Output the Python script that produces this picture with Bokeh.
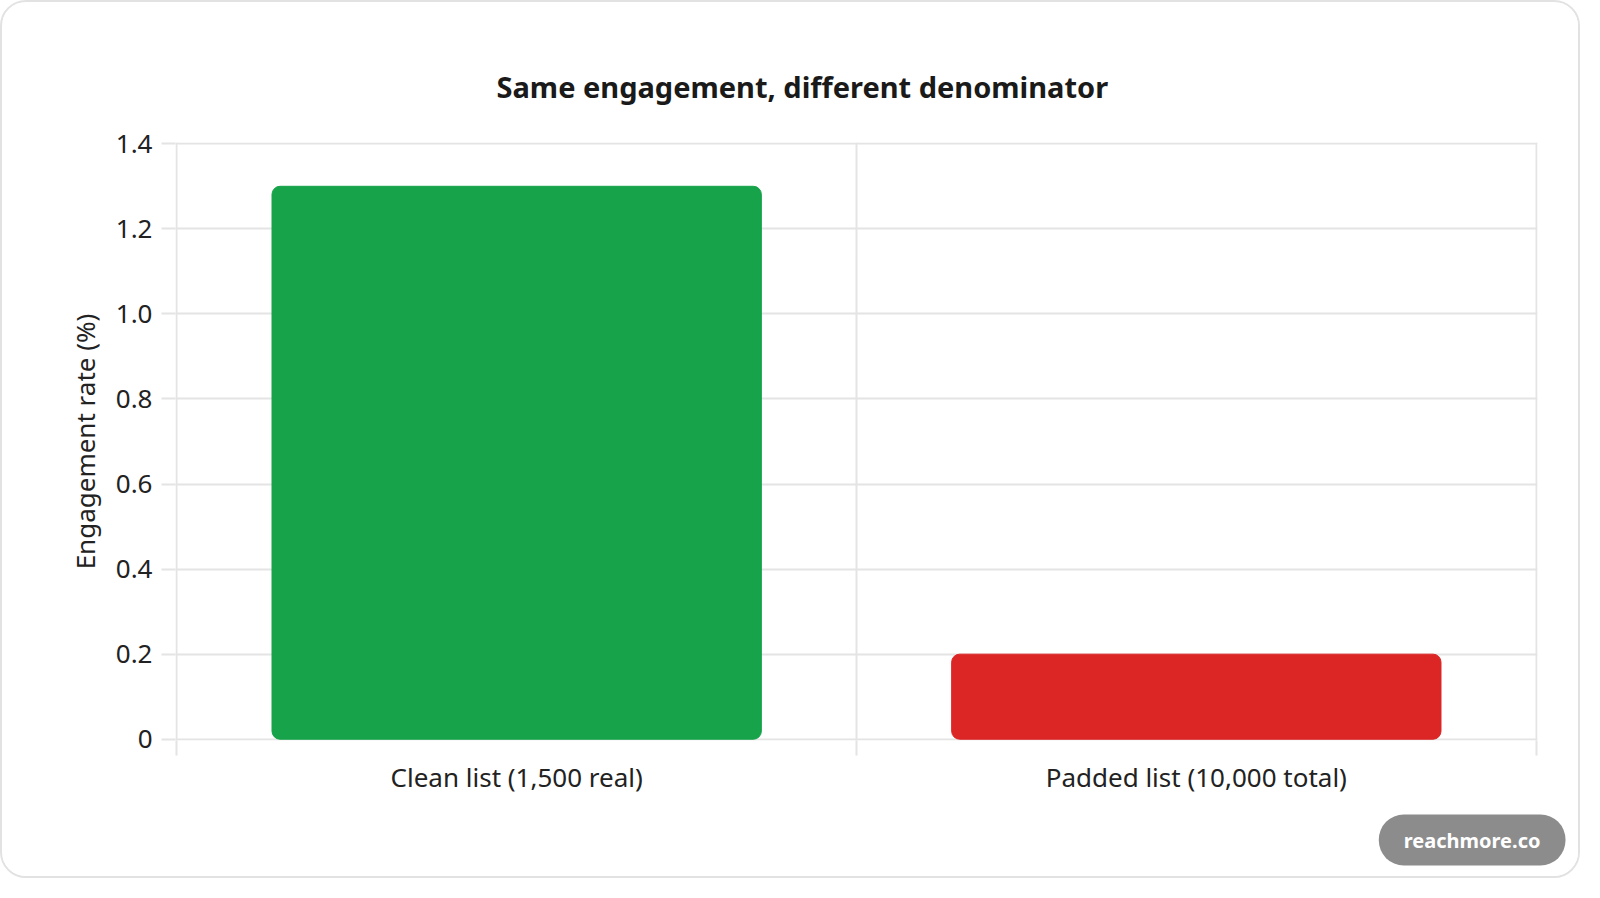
from bokeh.plotting import figure
from bokeh.models import FixedTicker, Title, ColumnDataSource, CustomJSTickFormatter
from bokeh.embed import file_html
from bokeh.resources import INLINE

# data
categories = ["Clean list (1,500 real)", "Padded list (10,000 total)"]
rates = [1.3, 0.2]
bar_colors = ["#16a34a", "#dc2626"]
y_ticks = [0, 0.2, 0.4, 0.6, 0.8, 1.0, 1.2, 1.4]

FONT = "Noto Sans"
W, H = 1580, 878
LEFT, RIGHT, TOP, BOTTOM = 173, 45, 140, 140
GRID = "#e4e4e4"
TXT = "#222222"

src = ColumnDataSource(data=dict(x=[0.5, 1.5], top=rates, color=bar_colors, name=categories))

# ranges padded a hair so the edge grid lines are not clipped away
p = figure(width=W, height=H, x_range=(-0.002, 2.002), y_range=(-0.003, 1.403),
           output_backend="svg", toolbar_location=None,
           min_border_left=LEFT, min_border_right=RIGHT,
           min_border_top=TOP, min_border_bottom=BOTTOM)
p.outline_line_color = None
p.styles = {"border": "2px solid #e2e2e2", "border-radius": "26px", "overflow": "hidden"}

p.vbar(x="x", top="top", bottom=0, width=0.72, color="color", source=src, border_radius=8)

# x axis: labels in the middle of each band, ticks on the band edges
p.xaxis.ticker = FixedTicker(ticks=[0.5, 1.5], minor_ticks=[0, 1, 2])
p.xaxis.major_label_overrides = {0.5: categories[0], 1.5: categories[1]}
p.xaxis.axis_line_color = None
p.xaxis.major_tick_line_color = None
p.xaxis.major_tick_out = 0
p.xaxis.minor_tick_out = 15
p.xaxis.minor_tick_in = 0
p.xaxis.minor_tick_line_color = GRID
p.xaxis.minor_tick_line_width = 2
p.xaxis.major_label_standoff = 3
p.xaxis.major_label_text_font = FONT
p.xaxis.major_label_text_font_size = "26px"
p.xaxis.major_label_text_color = TXT

p.xgrid.grid_line_color = None
p.xgrid.minor_grid_line_color = GRID
p.xgrid.minor_grid_line_width = 2

# y axis
p.yaxis.ticker = FixedTicker(ticks=y_ticks, minor_ticks=[])
p.yaxis.formatter = CustomJSTickFormatter(code="return tick == 0 ? '0' : tick.toFixed(1)")
p.yaxis.axis_line_color = None
p.yaxis.minor_tick_line_color = None
p.yaxis.major_tick_out = 14
p.yaxis.major_tick_in = 0
p.yaxis.major_tick_line_color = GRID
p.yaxis.major_tick_line_width = 2
p.yaxis.major_label_standoff = 9
p.yaxis.major_label_text_font = FONT
p.yaxis.major_label_text_font_size = "26px"
p.yaxis.major_label_text_color = TXT
p.yaxis.axis_label = "Engagement rate (%)"
p.yaxis.axis_label_text_font = FONT
p.yaxis.axis_label_text_font_size = "26px"
p.yaxis.axis_label_text_font_style = "normal"
p.yaxis.axis_label_text_color = TXT
p.yaxis.axis_label_standoff = 10

p.ygrid.grid_line_color = GRID
p.ygrid.grid_line_width = 2

# title: left aligned with an offset so that it sits in the middle of the card
p.title.text = "Same engagement, different denominator"
p.title.align = "left"
p.title.offset = 321
p.title.text_font = FONT
p.title.text_font_size = "29px"
p.title.text_font_style = "bold"
p.title.text_color = "#1a1a1a"
p.title.standoff = 73

# watermark pill under the axis
badge = Title(text="reachmore.co", align="right", offset=-28,
              text_font=FONT, text_font_size="20px", text_font_style="bold",
              text_color="white", background_fill_color="#8c8c8c",
              padding=(25, 12), border_radius=25, standoff=30)
p.add_layout(badge, "below")

open("out.html", "w").write(file_html(p, INLINE))
